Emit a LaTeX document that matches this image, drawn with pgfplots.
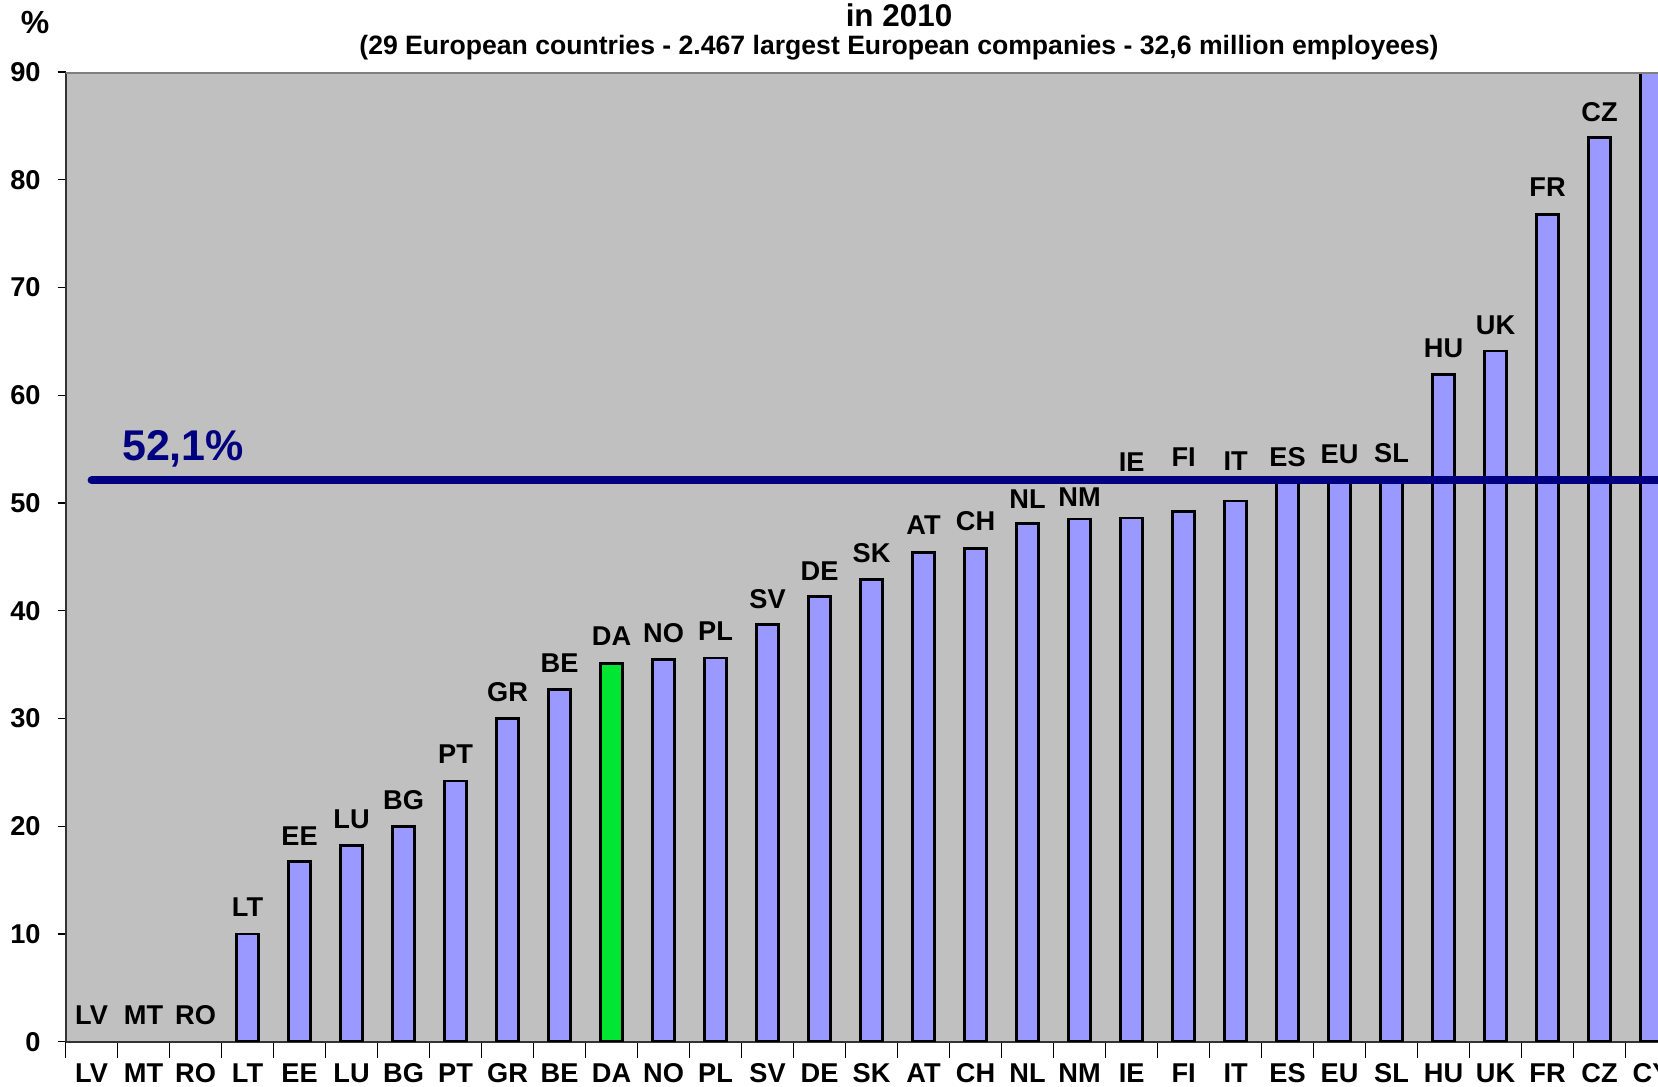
\documentclass[border=0pt]{standalone}
\usepackage{pgfplots}
\pgfplotsset{compat=1.18}
\usepackage{pgfplotstable}
\usepackage{fontspec}
\setmainfont{Liberation Sans}
\definecolor{bgray}{RGB}{192,192,192}
\definecolor{barblue}{RGB}{153,153,255}
\definecolor{bargreen}{RGB}{0,230,50}
\definecolor{navyline}{RGB}{0,0,128}
\pgfplotstableread{
x y
3 10.0
4 16.7
5 18.2
6 20.0
7 24.2
8 30.0
9 32.7
11 35.5
12 35.6
13 38.7
14 41.3
15 42.9
16 45.4
17 45.8
18 48.1
19 48.5
20 48.6
21 49.2
22 50.2
23 52.0
24 52.0
25 52.0
26 61.9
27 64.1
28 76.8
29 83.9
30 95.0
}\blue
\pgfplotstableread{
x y
10 35.1
}\green
\pgfplotstableread{
x y name
0 2.45 LV
1 2.45 MT
2 2.45 RO
3 12.46 LT
4 19.04 EE
5 20.6 LU
6 22.4 BG
7 26.7 PT
8 32.4 GR
9 35.1 BE
10 37.6 DA
11 37.9 NO
12 38.1 PL
13 41.1 SV
14 43.7 DE
15 45.3 SK
16 47.9 AT
17 48.3 CH
18 50.4 NL
19 50.5 NM
20 53.8 IE
21 54.3 FI
22 53.9 IT
23 54.3 ES
24 54.5 EU
25 54.6 SL
26 64.4 HU
27 66.5 UK
28 79.3 FR
29 86.3 CZ
}\labels
\begin{document}
\begin{tikzpicture}
\useasboundingbox (-32.8pt,-22.15pt) rectangle (796.2pt,520.85pt);
\clip (-32.8pt,-22.15pt) rectangle (796.2pt,520.85pt);
\begin{axis}[
  at={(0,0)}, anchor=south west,
  scale only axis,
  width=796.2pt, height=484.85pt,
  xmin=-0.5, xmax=30.123,
  ymin=0, ymax=90,
  axis x line*=bottom, axis y line*=left,
  axis line style={line width=1pt, draw=black!80},
  axis background/.style={fill=bgray},
  ytick={0,10,...,90},
  xtick={0,...,30},
  xticklabels={LV,MT,RO,LT,EE,LU,BG,PT,GR,BE,DA,NO,PL,SV,DE,SK,AT,CH,NL,NM,IE,FI,IT,ES,EU,SL,HU,UK,FR,CZ,CY},
  major x tick style={draw=none},
  minor xtick={-0.5,0.5,...,30.5},
  minor x tick style={line width=0.6pt, black},
  minor tick length=8pt,
  xtick align=center,
  ytick align=outside,
  major y tick style={line width=0.6pt, black},
  major tick length=4pt,
  xticklabel style={font=\fontsize{13.6}{16}\selectfont\bfseries, anchor=base, yshift=-16.3pt},
  yticklabel style={font=\fontsize{13.6}{16}\selectfont\bfseries, xshift=-5pt},
  /pgf/number format/assume math mode=true,
  ybar, bar width=11pt, bar shift=0pt,
  clip=true,
]
\addplot[draw=black, line width=1.3pt, fill=barblue] table[x=x,y=y]{\blue};
\addplot[draw=black, line width=1.3pt, fill=bargreen] table[x=x,y=y]{\green};
\addplot[sharp plot, draw=navyline, line width=4pt, line cap=round] coordinates {(0,52.1) (31,52.1)};
\addplot[draw=none, mark=none, sharp plot, nodes near coords, point meta=explicit symbolic,
  every node near coord/.append style={anchor=center, font=\fontsize{13.6}{16}\selectfont\bfseries, inner sep=0pt}]
  table[x=x,y=y,meta=name]{\labels};
\node[text=navyline, font=\fontsize{21.5}{24}\selectfont\bfseries] at (axis cs:1.76,55.0) {52,1\%};
\draw[draw=black!50, line width=1.5pt] (rel axis cs:0,1) -- (rel axis cs:1,1);
\end{axis}
\node[font=\fontsize{15.7}{18}\selectfont\bfseries] at (416.7pt,513.35pt) {in 2010};
\node[font=\fontsize{13.3}{15}\selectfont\bfseries] at (416.7pt,497.05pt) {(29 European countries - 2.467 largest European companies - 32,6 million employees)};
\node[font=\fontsize{16}{18}\selectfont\bfseries] at (-15.3pt,509.35pt) {\%};
\end{tikzpicture}
\end{document}
